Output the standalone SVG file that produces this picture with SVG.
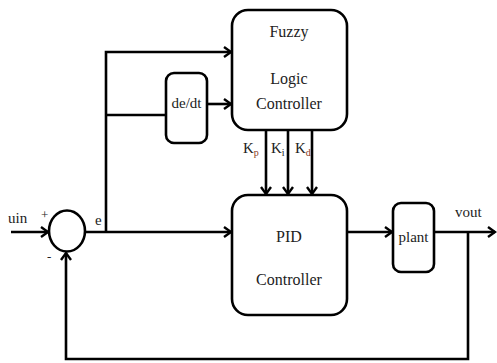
<svg xmlns="http://www.w3.org/2000/svg" width="497" height="363" viewBox="0 0 497 363">
<style>
.box{fill:#fff;stroke:#000;stroke-width:2.6}
.ln{fill:none;stroke:#000;stroke-width:2.6}
text{font-family:'Liberation Serif','DejaVu Serif','Times New Roman',serif;fill:#222}
.t{font-size:16px;text-anchor:middle}
.k{font-size:15px}
.sub{font-size:10px;fill:#8a3a1a}
</style>
<defs>
<marker id="ah" markerWidth="12" markerHeight="12" refX="9" refY="6" orient="auto" markerUnits="userSpaceOnUse">
<path d="M2,1 L9,6 L2,11" fill="none" stroke="#000" stroke-width="2.4"/>
</marker>
</defs>
<g id="connectors">
<path class="ln" d="M11,232 H48" marker-end="url(#ah)"/>
<path class="ln" d="M85,232 H231" marker-end="url(#ah)"/>
<path class="ln" d="M106,232 V52 H231" marker-end="url(#ah)"/>
<path class="ln" d="M106,115 H166"/>
<path class="ln" d="M207,104 H231" marker-end="url(#ah)"/>
<path class="ln" d="M266,130 V194" marker-end="url(#ah)"/>
<path class="ln" d="M288,130 V194" marker-end="url(#ah)"/>
<path class="ln" d="M312,130 V194" marker-end="url(#ah)"/>
<path class="ln" d="M347,232 H392" marker-end="url(#ah)"/>
<path class="ln" d="M434,232 H495" marker-end="url(#ah)"/>
<path class="ln" d="M468,232 V359 H66 V253" marker-end="url(#ah)"/>
</g>
<g id="sum">
<ellipse class="box" cx="67" cy="231" rx="18" ry="20.5"/>
<text x="41" y="219" font-size="13">+</text>
<text x="47" y="261" font-size="13">-</text>
</g>
<g id="fuzzy">
<rect class="box" x="232" y="10" width="115" height="120" rx="16"/>
<text class="t" x="289" y="37">Fuzzy</text>
<text class="t" x="289" y="84">Logic</text>
<text class="t" x="289" y="109">Controller</text>
</g>
<g id="dedt">
<rect class="box" x="166" y="73" width="41" height="70" rx="8"/>
<text class="t" x="186.5" y="108" style="font-size:15px">de/dt</text>
</g>
<g id="pid">
<rect class="box" x="232" y="195" width="115" height="120" rx="16"/>
<text class="t" x="289" y="242">PID</text>
<text class="t" x="289" y="285">Controller</text>
</g>
<g id="plant">
<rect class="box" x="393" y="203" width="41" height="69" rx="8"/>
<text class="t" x="413.5" y="242" style="font-size:15px">plant</text>
</g>
<g id="labels">
<text class="k" x="8" y="223">uin</text>
<text class="k" x="95" y="225">e</text>
<text class="k" x="455" y="217">vout</text>
<text class="k" x="243" y="153">K<tspan class="sub" dy="3">p</tspan></text>
<text class="k" x="271" y="153">K<tspan class="sub" dy="3" style="fill:#222">i</tspan></text>
<text class="k" x="295" y="153">K<tspan class="sub" dy="3">d</tspan></text>
</g>
</svg>
